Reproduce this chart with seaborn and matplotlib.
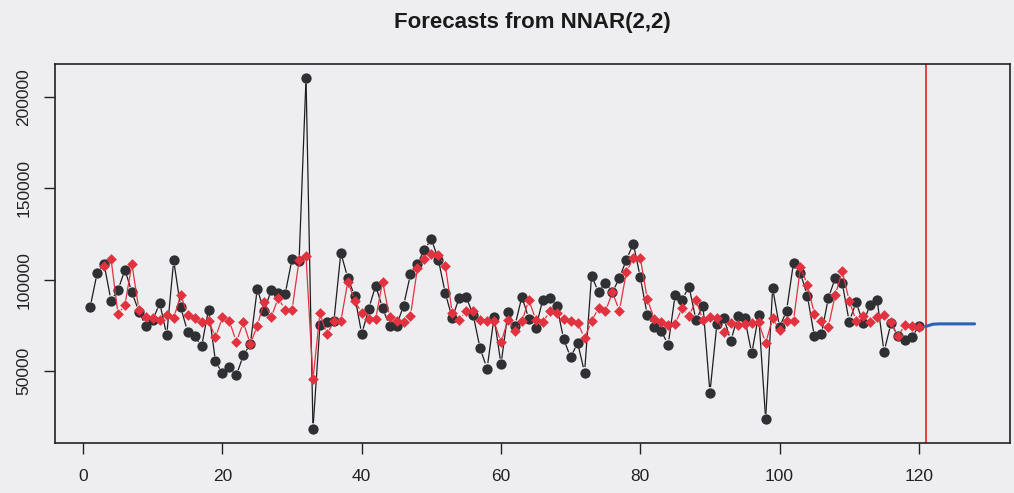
import numpy as np
import pandas as pd
import matplotlib
matplotlib.use("Agg")
import matplotlib.pyplot as plt
from matplotlib.collections import LineCollection
import seaborn as sns

# ---- data ----
actual = [84800, 103500, 108600, 88400, 94300, 105300, 93000, 82400, 74700, 78000,
          87000, 69500, 110500, 84800, 71400, 69200, 63300, 83500, 55100, 48500,
          52300, 47500, 58500, 64600, 94900, 82600, 94300, 92500, 92000, 111400,
          110100, 210500, 18200, 75200, 76500, 77100, 114700, 100800, 90900, 70100,
          83900, 96700, 84200, 74700, 74700, 85700, 102800, 108600, 116400, 122200,
          111000, 92500, 78900, 90100, 90500, 80600, 62200, 51200, 79300, 53600,
          82000, 74700, 90600, 78400, 73600, 89000, 89900, 85700, 67300, 57300,
          65300, 49000, 102200, 93000, 98300, 93000, 100900, 110800, 119700, 101300,
          80600, 74100, 71900, 64200, 91400, 89000, 96100, 77800, 85700, 38000,
          75600, 78700, 66400, 79800, 78700, 59500, 80600, 23300, 95300, 73800,
          82900, 109200, 103500, 90900, 68800, 70100, 89800, 100900, 98000, 76900,
          87600, 76000, 86100, 89000, 60400, 76000, 69000, 66800, 68300, 74700]

fitted = [107200, 111400, 81100, 86100, 108600, 83500, 79300, 78900, 77800, 80600,
          78900, 91600, 80600, 78700, 76900, 77300, 68300, 79300, 77100, 65900,
          76500, 64600, 74700, 87900, 79300, 89800, 83500, 83500, 110500, 112700,
          45300, 81500, 69900, 77100, 77100, 98900, 88400, 81500, 78400, 78400,
          98900, 79300, 77400, 76500, 80200, 106300, 111400, 114200, 113200, 107700,
          81700, 78000, 82600, 82600, 77800, 77100, 77100, 65500, 77800, 71900,
          77100, 88800, 77800, 76500, 82600, 81700, 78400, 77400, 76200, 67900,
          77100, 84400, 82600, 93000, 82900, 104100, 111800, 111900, 89400, 78400,
          76500, 75200, 75600, 84400, 80000, 88800, 77800, 79300, 78700, 71000,
          76000, 75200, 75600, 76000, 76500, 65100, 78700, 72500, 77400, 77400,
          106800, 97100, 81100, 77400, 74100, 91600, 104600, 88400, 77400, 80200,
          76500, 79300, 80700, 76500, 68800, 75200, 74700, 73800]

forecast = [74300, 75500, 75700, 75700, 75700, 75700, 75700, 75700]

t_actual = list(range(1, len(actual) + 1))
t_fitted = list(range(3, 3 + len(fitted)))
t_forecast = list(range(len(actual) + 1, len(actual) + 1 + len(forecast)))
vline_at = 121

x_ticks = [0, 20, 40, 60, 80, 100, 120]
y_ticks = [50000, 100000, 150000, 200000]
y_tick_labels = ["50000", "100000", "150000", "200000"]
title = "Forecasts from NNAR(2,2)"

# ---- style ----
bg = "#eeeef0"
black_c = "#2e3034"
red_c = "#e2323f"
sns.set_style("ticks")
plt.rcParams['font.family'] = ['Liberation Sans', 'DejaVu Sans']

fig = plt.figure(figsize=(10.14, 4.93), dpi=100, facecolor=bg)
ax = fig.add_axes([0.054, 0.102, 0.942, 0.768])
ax.set_facecolor(bg)

df_a = pd.DataFrame({"t": t_actual, "v": actual})
df_f = pd.DataFrame({"t": t_fitted, "v": fitted})
df_fc = pd.DataFrame({"t": t_forecast, "v": forecast})

# points
sns.scatterplot(data=df_a, x="t", y="v", color=black_c, s=55, marker="o",
                linewidth=0, ax=ax, zorder=3)
sns.scatterplot(data=df_f, x="t", y="v", color=red_c, s=30, marker="D",
                linewidth=0, ax=ax, zorder=5)
sns.lineplot(data=df_fc, x="t", y="v", color="#2b62b4", lw=2.2, ax=ax, zorder=4)
ax.axvline(vline_at, color="#e8202a", lw=1.2, zorder=2)

ax.margins(x=0.04, y=0.04)
ax.set_xlim(ax.get_xlim())
ax.set_ylim(ax.get_ylim())


def gapped_segments(ts, vs, gap_px):
    """R type='b' lines: segments between points, shortened at both ends."""
    pts = ax.transData.transform(np.column_stack([ts, vs]).astype(float))
    inv = ax.transData.inverted()
    segs = []
    for p0, p1 in zip(pts[:-1], pts[1:]):
        d = p1 - p0
        L = np.hypot(d[0], d[1])
        if L <= 2 * gap_px:
            continue
        u = d / L
        segs.append(inv.transform(np.array([p0 + u * gap_px, p1 - u * gap_px])))
    return segs


ax.add_collection(LineCollection(gapped_segments(t_actual, actual, 5.5),
                                 colors="#1e1e1e", linewidths=0.9, zorder=2))
ax.add_collection(LineCollection(gapped_segments(t_fitted, fitted, 5.0),
                                 colors=red_c, linewidths=0.9, zorder=4))

ax.set_xticks(x_ticks)
ax.set_xticklabels([str(v) for v in x_ticks])
ax.set_yticks(y_ticks)
ax.set_yticklabels(y_tick_labels, rotation=90, va="center")
ax.tick_params(direction="out", length=8, width=1, labelsize=12.5,
               color="#222", labelcolor="#222")
ax.tick_params(axis="x", pad=11)
ax.tick_params(axis="y", pad=9)
ax.set_xlabel("")
ax.set_ylabel("")
for s in ax.spines.values():
    s.set_visible(True)
    s.set_color("#222")
    s.set_linewidth(1.2)

fig.text(0.525, 0.955, title, ha="center", va="center", fontsize=16,
         fontweight="bold", color="#1a1a1a")

fig.savefig("out.png", dpi=100, facecolor=bg)
